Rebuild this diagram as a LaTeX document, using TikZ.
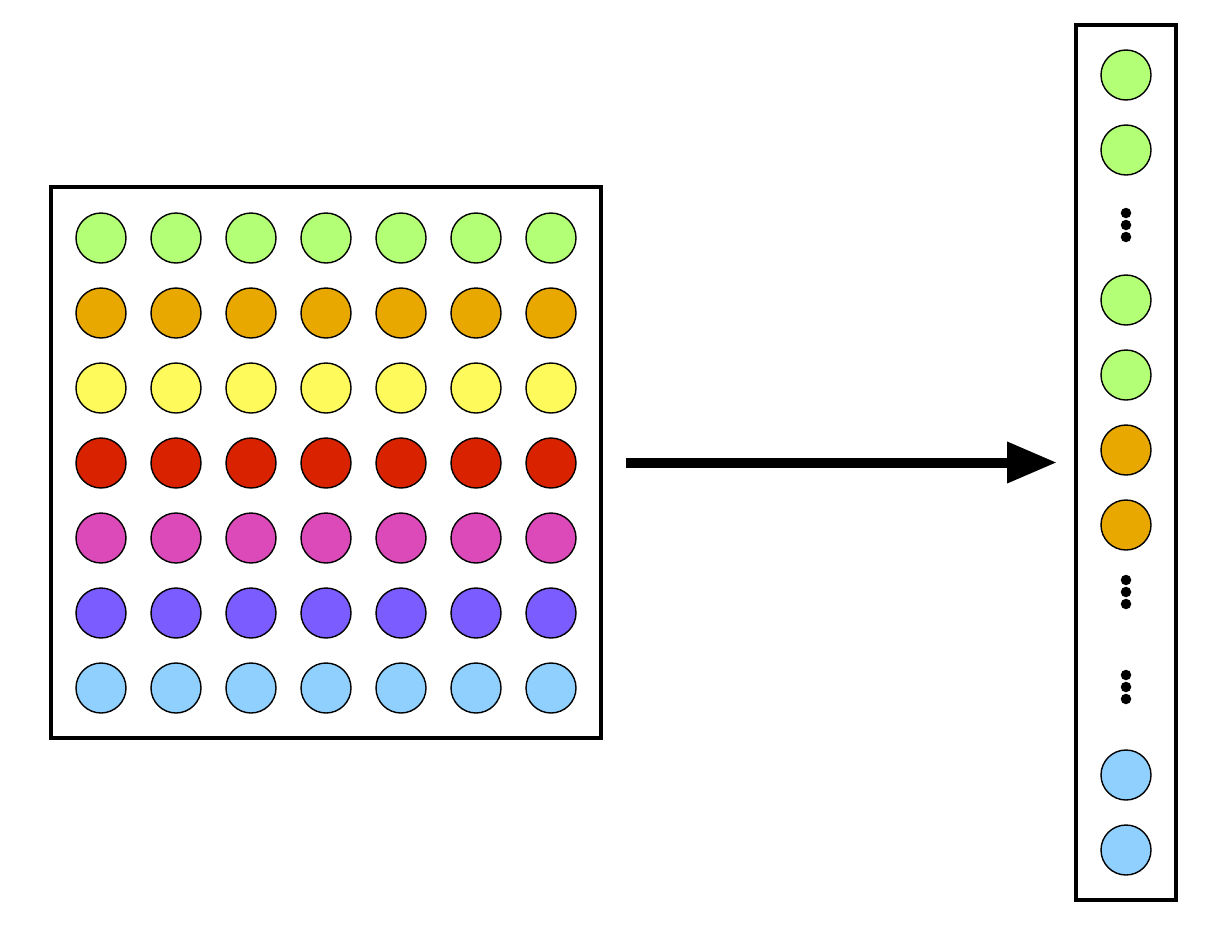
\documentclass[tikz,border=0pt]{standalone}
\usepackage{xcolor}
\usepackage{tikz}
\usetikzlibrary{positioning,arrows.meta,calc}
\definecolor{cgreen}{RGB}{179,255,117}
\definecolor{corange}{RGB}{232,168,0}
\definecolor{cyellow}{RGB}{255,250,92}
\definecolor{cred}{RGB}{217,35,0}
\definecolor{cpink}{RGB}{219,74,184}
\definecolor{cpurple}{RGB}{122,92,255}
\definecolor{cblue}{RGB}{143,208,255}
\tikzset{
  frame/.style={draw=black, line width=4pt, fill=white, inner sep=0pt},
  cell/.style={circle, draw=black, line width=1.4pt, minimum size=50pt, inner sep=0pt},
  ell/.style={circle, fill=black, minimum size=10.5pt, inner sep=0pt},
  arr/.style={-{Triangle[length=50pt, width=39pt]}, line width=10pt},
}
\begin{document}
\begin{tikzpicture}[x=1pt, y=-1pt]
    \useasboundingbox (0,0) rectangle (1229,937);
    % input matrix
    \node[frame, minimum width=550pt, minimum height=551pt] (grid) at (326,462.5) {};
    \foreach \r/\col in {0/cgreen, 1/corange, 2/cyellow, 3/cred, 4/cpink, 5/cpurple, 6/cblue}{
      \foreach \c in {0,...,6}{
        \node[cell, fill=\col] (m\r\c) at (101+\c*75, 238+\r*75) {};
      }
    }
    % flattened column
    \node[frame, minimum width=100pt, minimum height=875pt] (vec) at (1126,462.5) {};
    \foreach \n/\y/\col in {a/75/cgreen, b/150/cgreen, c/300/cgreen, d/375/cgreen, e/450/corange, f/525/corange, g/775/cblue, h/850/cblue}{
      \node[cell, fill=\col] (v\n) at (1126,\y) {};
    }
    \foreach \k/\y in {1/225, 2/592, 3/687}{
      \node[ell] (e\k a) at (1126,\y-12) {};
      \node[ell] (e\k b) at (1126,\y) {};
      \node[ell] (e\k c) at (1126,\y+12) {};
    }
    \coordinate (from) at ($(grid.east)+(23,0)$);
    \coordinate (to) at ($(vec.west)+(-17,0)$);
    \draw[arr] (from) -- (to);
  \end{tikzpicture}
\end{document}
